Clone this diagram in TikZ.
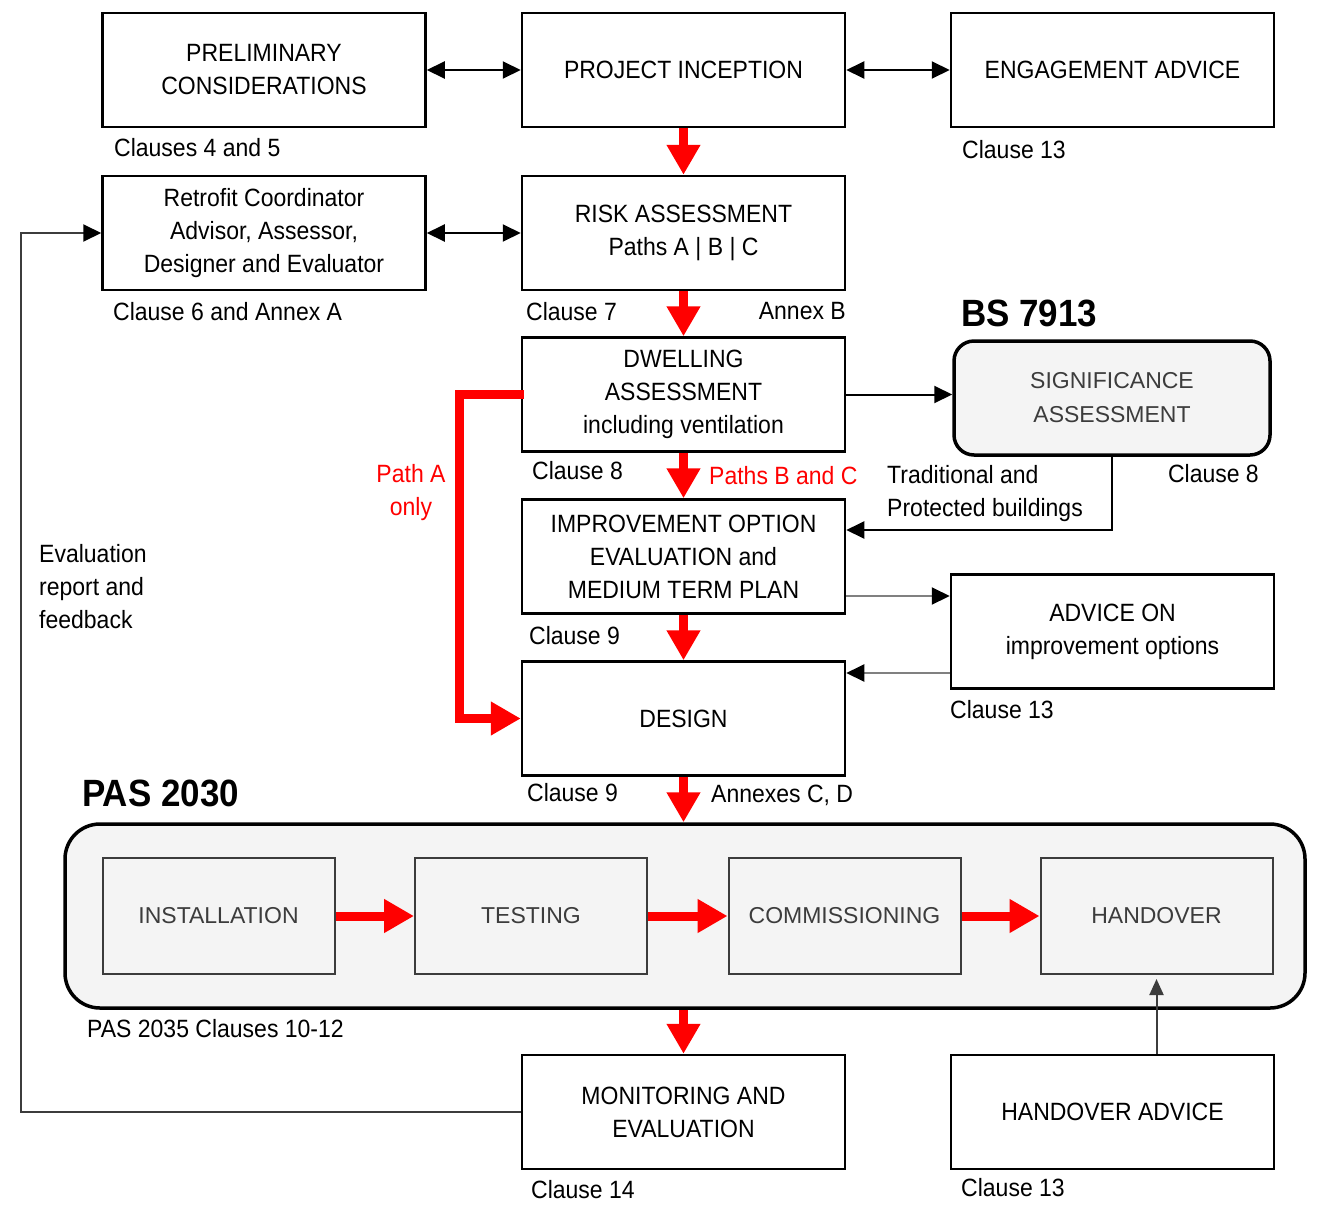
\documentclass[tikz,border=0pt]{standalone}
\usepackage{fontspec}
\setmainfont{Liberation Sans}[FakeStretch=0.92]
\newfontfamily\greyfont{Liberation Sans}
\usetikzlibrary{arrows.meta,positioning,calc}
\definecolor{panel}{HTML}{F4F4F4}
\definecolor{inkgrey}{HTML}{3C3C3C}

\begin{document}
\begin{tikzpicture}[
  x=1pt,
  y=-1pt,
  every node/.style={font=\fontsize{25}{33}\selectfont, align=center},
  stage/.style={
    draw,
    line width=2.5pt,
    minimum width=323pt,
    minimum height=114pt,
    inner sep=0pt
  },
  special/.style={
    draw,
    rounded corners=20pt,
    fill=panel,
    line width=3.5pt,
    minimum width=316pt,
    minimum height=114pt,
    inner sep=0pt,
    text=inkgrey,
    font=\greyfont\fontsize{23}{34}\selectfont
  },
  substage/.style={
    draw=inkgrey,
    fill=panel,
    line width=2pt,
    minimum width=232pt,
    minimum height=116pt,
    inner sep=0pt,
    text=inkgrey,
    font=\greyfont\fontsize{23}{34}\selectfont
  },
  note/.style={inner sep=0pt, anchor=west},
  title/.style={inner sep=0pt, anchor=west, font=\fontsize{38}{44}\selectfont\bfseries},
  link/.style={line width=2pt, -{Triangle[length=18pt,width=17pt,color=black]}},
  twoway/.style={line width=2pt, {Triangle[length=18pt,width=17pt]}-{Triangle[length=18pt,width=17pt]}},
  flow/.style={draw=red, line width=9pt, -{Triangle[length=30pt,width=32pt]}}
]
\useasboundingbox (0,0) rectangle (1319,1210);

% main column
\node[stage] (prelim) at (264,70) {PRELIMINARY\\CONSIDERATIONS};
\node[stage] (inception) at (683.5,70) {PROJECT INCEPTION};
\node[stage] (engage) at (1112.5,70) {ENGAGEMENT ADVICE};
\node[stage] (retrofit) at (264,233) {Retrofit Coordinator\\Advisor, Assessor,\\Designer and Evaluator};
\node[stage] (risk) at (683.5,233) {RISK ASSESSMENT\\Paths A | B | C};
\node[stage] (dwell) at (683.5,394.5) {DWELLING\\ASSESSMENT\\including ventilation};
\node[special] (signif) at (1112,398) {SIGNIFICANCE\\ASSESSMENT};
\node[stage] (improve) at (683.5,556.5) {IMPROVEMENT OPTION\\EVALUATION and\\MEDIUM TERM PLAN};
\node[stage] (advice) at (1112.5,631.5) {ADVICE ON\\improvement options};
\node[stage] (design) at (683.5,718.5) {DESIGN};

% PAS 2030 panel
\node[draw, rounded corners=35pt, fill=panel, line width=3.5pt,
  minimum width=1240pt, minimum height=184pt] (pasbox) at (685,916) {};
\node[substage] (install) at (218.5,916) {INSTALLATION};
\node[substage] (testing) at (531,916) {TESTING};
\node[substage] (commission) at (844.5,916) {COMMISSIONING};
\node[substage] (handover) at (1156.5,916) {HANDOVER};

\node[stage] (monitor) at (683.5,1112) {MONITORING AND\\EVALUATION};
\node[stage] (hoadvice) at (1112.5,1112) {HANDOVER ADVICE};

% notes
\node[note] (n45) at (114,148) {Clauses 4 and 5};
\node[note] (n13a) at (962,150) {Clause 13};
\node[note] (n6) at (113,312) {Clause 6 and Annex A};
\node[note] (n7) at (526,312) {Clause 7};
\node[note, anchor=east] (nB) at (846,311) {Annex B};
\node[title] (bs) at (961,313) {BS 7913};
\node[note] (n8a) at (532,471) {Clause 8};
\node[note, text=red] (pathbc) at (709,476) {Paths B and C};
\node[note, anchor=east] (n8b) at (1259,474) {Clause 8};
\node[note, align=left] (trad) at (887,494) {Traditional and\\Protected buildings};
\node[text=red, inner sep=0pt] (patha) at (411,493) {Path A\\only};
\node[note, align=left] (evalfb) at (39,587) {Evaluation\\report and\\feedback};
\node[note] (n9a) at (529,636) {Clause 9};
\node[note] (n13b) at (950,710) {Clause 13};
\node[title] (pas) at (82,793) {PAS 2030};
\node[note] (n9b) at (527,793) {Clause 9};
\node[note] (nCD) at (711,795) {Annexes C, D};
\node[note] (n1012) at (87,1029) {PAS 2035 Clauses 10-12};
\node[note] (n14) at (531,1190) {Clause 14};
\node[note] (n13c) at (961,1188) {Clause 13};

% red flow
\draw[flow] (inception) -- (risk);
\draw[flow] (risk) -- (dwell);
\draw[flow] (dwell) -- (improve);
\draw[flow] (improve) -- (design);
\draw[flow] (design.south) -- (design.south |- pasbox.north);
\draw[flow] (monitor.north |- pasbox.south) -- (monitor.north);
\draw[flow] (install) -- (testing);
\draw[flow] (testing) -- (commission);
\draw[flow] (commission) -- (handover);
\draw[flow] ([xshift=3pt]dwell.west) -- ++(-64,0) |- (design.west);

% black links
\draw[twoway] (prelim) -- (inception);
\draw[twoway] (inception) -- (engage);
\draw[twoway] (retrofit) -- (risk);
\draw[link] (dwell.east) -- (dwell.east -| signif.west);
\draw[link] (signif.south) |- ([yshift=26.5pt]improve.east);
\draw[link, draw=gray] ([yshift=-39.5pt]improve.east) -- ([yshift=-39.5pt]improve.east -| advice.west);
\draw[link, draw=gray] ([yshift=-41.5pt]advice.west) -- ([yshift=-41.5pt]advice.west -| design.east);
\draw[link, draw=inkgrey, -{Triangle[length=16pt,width=14pt]}] (handover.south |- hoadvice.north) -- ([yshift=-4pt]handover.south);
\draw[link, draw=inkgrey] (monitor.west) -- ++(-500,0) |- (retrofit.west);

\end{tikzpicture}
\end{document}
